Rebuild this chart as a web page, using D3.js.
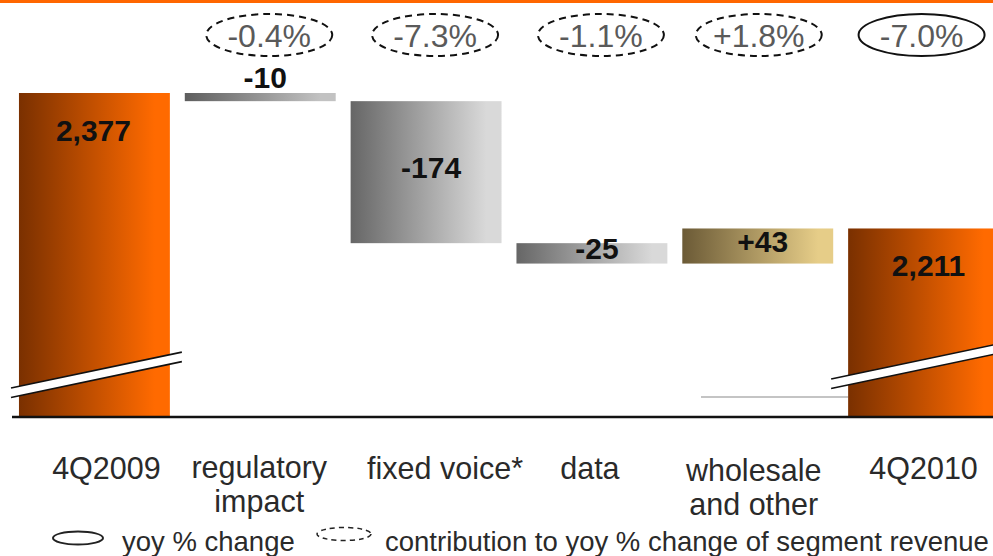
<!DOCTYPE html>
<html>
<head>
<meta charset="utf-8">
<script src="https://cdn.jsdelivr.net/npm/d3@7"></script>
<style>
  html, body { margin: 0; padding: 0; background: #fff; }
  svg { display: block; }
</style>
</head>
<body>
<div id="chart"></div>
<script>
// ---- data ----
const categories = ["4Q2009", "regulatory impact", "fixed voice*", "data", "wholesale and other", "4Q2010"];
const categoryLines = [["4Q2009"], ["regulatory", "impact"], ["fixed voice*"], ["data"], ["wholesale", "and other"], ["4Q2010"]];
const values = [2377, -10, -174, -25, 43, 2211];
const kinds = ["total", "delta", "delta", "delta", "delta", "total"];
const valueLabels = ["2,377", "-10", "-174", "-25", "+43", "2,211"];
const pctLabels = [null, "-0.4%", "-7.3%", "-1.1%", "+1.8%", "-7.0%"];
const pctStyle = [null, "dashed", "dashed", "dashed", "dashed", "solid"];
const legendItems = [
  { style: "solid", label: "yoy % change" },
  { style: "dashed", label: "contribution to yoy % change of segment revenue" }
];

// ---- layout ----
const W = 993, H = 556;
const baseY = 417;
const svg = d3.select("#chart").append("svg").attr("width", W).attr("height", H);
const defs = svg.append("defs");

function grad(id, c0, c1) {
  const g = defs.append("linearGradient").attr("id", id)
    .attr("x1", "0%").attr("x2", "100%").attr("y1", "0%").attr("y2", "0%");
  g.append("stop").attr("offset", "0%").attr("stop-color", c0);
  g.append("stop").attr("offset", "90%").attr("stop-color", c1);
  g.append("stop").attr("offset", "100%").attr("stop-color", c1);
}
grad("gOrange", "#7a3000", "#ff6a00");
grad("gGreyA", "#5e5e5e", "#c2c2c2");
grad("gGrey", "#666666", "#d9d9d9");
grad("gGold", "#6b5a36", "#e6cd88");

const x = d3.scaleBand().domain(categories).range([11.5, 1006.5])
  .paddingInner(0.09).paddingOuter(0.045);
const y = d3.scaleLinear().domain([1980, 2377]).range([baseY, 93]);

// compute waterfall extents
let running = 0;
const bars = categories.map((c, i) => {
  let lo, hi;
  if (kinds[i] === "total") { lo = y.domain()[0]; hi = values[i]; running = values[i]; }
  else { const start = running; running += values[i]; lo = Math.min(start, running); hi = Math.max(start, running); }
  let fill = "url(#gGrey)";
  if (kinds[i] === "total") fill = "url(#gOrange)";
  else if (values[i] > 0) fill = "url(#gGold)";
  else if (i === 1) fill = "url(#gGreyA)";
  return { c, i, lo, hi, fill };
});

// top orange rule
svg.append("rect").attr("x", 0).attr("y", 0).attr("width", W).attr("height", 3).attr("fill", "#ff6600");

// faint connector line
svg.append("line").attr("x1", 701).attr("x2", x("4Q2010")).attr("y1", 397).attr("y2", 397)
  .attr("stroke", "#c4c4c4").attr("stroke-width", 2);

// bars
svg.selectAll("rect.bar").data(bars).enter().append("rect")
  .attr("class", "bar")
  .attr("x", d => x(d.c))
  .attr("width", x.bandwidth())
  .attr("y", d => y(d.hi))
  .attr("height", d => y(d.lo) - y(d.hi))
  .attr("fill", d => d.fill);

// break marks on totals
bars.filter(d => kinds[d.i] === "total").forEach(d => {
  const x0 = d.i === 0 ? 11 : x(d.c) - 17;
  const x1 = d.i === 0 ? x(d.c) + x.bandwidth() + 12 : W + 2;
  const yA = d.i === 0 ? 388 : 379;
  const slope = -0.21;
  const yB = yA + slope * (x1 - x0);
  const gap = 9.5;
  svg.append("polygon")
    .attr("points", `${x0},${yA} ${x1},${yB} ${x1},${yB + gap} ${x0},${yA + gap}`)
    .attr("fill", "#fff");
  svg.append("line").attr("x1", x0).attr("y1", yA).attr("x2", x1).attr("y2", yB)
    .attr("stroke", "#111").attr("stroke-width", 1.6);
  svg.append("line").attr("x1", x0).attr("y1", yA + gap).attr("x2", x1).attr("y2", yB + gap)
    .attr("stroke", "#111").attr("stroke-width", 1.6);
});

// baseline
svg.append("line").attr("x1", 12).attr("x2", W).attr("y1", baseY).attr("y2", baseY)
  .attr("stroke", "#111").attr("stroke-width", 2.5);

// value labels
svg.selectAll("text.val").data(bars).enter().append("text")
  .attr("class", "val")
  .attr("x", d => x(d.c) + x.bandwidth() / 2 + (d.i === 0 ? -1 : 5))
  .attr("y", d => {
    const top = y(d.hi), bot = y(d.lo);
    if (kinds[d.i] === "total") return top + 48;
    if (bot - top < 15) return top - 5;
    return (top + bot) / 2 + 6;
  })
  .attr("text-anchor", "middle")
  .attr("font-family", "'Liberation Sans', Arial, sans-serif")
  .attr("font-weight", "bold")
  .attr("font-size", 30)
  .attr("fill", "#111")
  .text(d => valueLabels[d.i]);

// percentage ellipses
const pctData = categories.map((c, i) => ({ c, i })).filter(d => pctLabels[d.i]);
const pg = svg.selectAll("g.pct").data(pctData).enter().append("g")
  .attr("class", "pct")
  .attr("transform", d => `translate(${x(d.c) + x.bandwidth() / 2 + (d.i === 5 ? -2 : d.i === 4 ? 1 : 9)},35)`);
pg.append("ellipse").attr("rx", 63).attr("ry", 21)
  .attr("fill", "none").attr("stroke", "#111").attr("stroke-width", 2)
  .attr("stroke-dasharray", d => pctStyle[d.i] === "dashed" ? "7,5" : null);
pg.append("text").attr("y", 12).attr("text-anchor", "middle")
  .attr("font-family", "'Liberation Sans', Arial, sans-serif")
  .attr("font-size", 32).attr("fill", "#5a5a5a")
  .text(d => pctLabels[d.i]);

// category labels (one text element per line)
const catDx = [12, -1, 19, -2, -4, 0];
const catY = [479, 478, 479, 479, 481, 479];
const catLineData = [];
categoryLines.forEach((lines, i) => lines.forEach((ln, k) => catLineData.push({ c: categories[i], i, k, ln })));
svg.selectAll("text.cat").data(catLineData).enter().append("text")
  .attr("class", "cat")
  .attr("x", d => x(d.c) + x.bandwidth() / 2 + catDx[d.i])
  .attr("y", d => catY[d.i] + d.k * 34)
  .attr("text-anchor", "middle")
  .attr("font-family", "'Liberation Sans', Arial, sans-serif")
  .attr("font-size", 30.5)
  .attr("fill", "#2a2a2a")
  .text(d => d.ln);

// legend
const lg = svg.append("g");
const lx = [78, 344], ly = [538, 534], tx = [122, 385];
legendItems.forEach((it, k) => {
  lg.append("ellipse").attr("cx", lx[k]).attr("cy", ly[k]).attr("rx", k === 0 ? 25 : 27).attr("ry", 6.5)
    .attr("fill", "none").attr("stroke", "#222").attr("stroke-width", k === 0 ? 2 : 1.5)
    .attr("stroke-dasharray", it.style === "dashed" ? "5,4" : null);
  lg.append("text").attr("x", tx[k]).attr("y", 551)
    .attr("font-family", "'Liberation Sans', Arial, sans-serif")
    .attr("font-size", 27.5).attr("fill", "#2a2a2a")
    .text(it.label);
});
</script>
</body>
</html>
